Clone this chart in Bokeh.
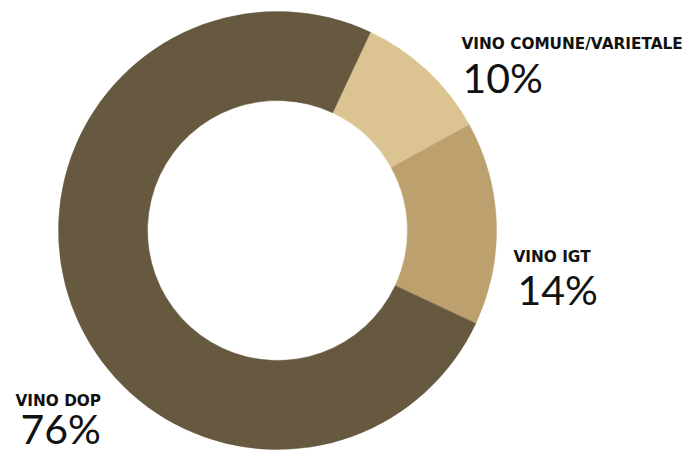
import math
from bokeh.plotting import figure
from bokeh.models import Range1d, ColumnDataSource
from bokeh.core.properties import value
from bokeh.embed import file_html
from bokeh.resources import INLINE

# Data (clockwise from the top-right boundary)
categories = ["VINO COMUNE/VARIETALE", "VINO IGT", "VINO DOP"]
shares = [10.0, 15.0, 75.0]          # slice sizes as drawn
pct_labels = ["10%", "14%", "76%"]
colors = ["#dbc491", "#bca06e", "#665940"]

# label positions in page pixels (left x, vertical middle of name / percent)
label_x = [461, 513, 15]
pct_x = [462, 517, 20]
name_mid = [43.5, 256.5, 400.5]
pct_mid = [77, 288.5, 428]

W, H = 695, 452
CX, CY = 277, 230          # donut centre in page pixels
R_OUT, R_IN = 219, 130
START_FROM_TOP = 25.1      # degrees clockwise from 12 o'clock

def py(y):
    return H - y

p = figure(width=W, height=H, output_backend="svg", toolbar_location=None,
           x_range=Range1d(0, W), y_range=Range1d(0, H),
           min_border=0)
p.axis.visible = False
p.grid.visible = False
p.outline_line_color = None
p.background_fill_color = "white"
p.border_fill_color = "white"

starts, ends = [], []
a = 90.0 - START_FROM_TOP
total = sum(shares)
for s in shares:
    span = 360.0 * s / total
    starts.append(math.radians(a))
    ends.append(math.radians(a - span))
    a -= span

src = ColumnDataSource(dict(x=[CX] * 3, y=[py(CY)] * 3, start=starts, end=ends, color=colors))
p.annular_wedge(x="x", y="y", inner_radius=R_IN, outer_radius=R_OUT,
                start_angle="start", end_angle="end", direction="clock",
                fill_color="color", line_color="color", line_width=0.5, source=src)

lsrc = ColumnDataSource(dict(x=label_x, y=[py(v) for v in name_mid], t=categories))
p.text(x="x", y="y", text="t", source=lsrc, text_font=value("DejaVu Sans"),
       text_font_style="bold", text_font_size="15.3px", text_color="#111111",
       text_baseline="middle", text_align="left")

psrc = ColumnDataSource(dict(x=pct_x, y=[py(v) for v in pct_mid], t=pct_labels))
p.text(x="x", y="y", text="t", source=psrc, text_font=value("Lato"),
       text_font_size="41px", text_color="#111111",
       text_baseline="middle", text_align="left")

open("out.html", "w").write(file_html(p, INLINE))
